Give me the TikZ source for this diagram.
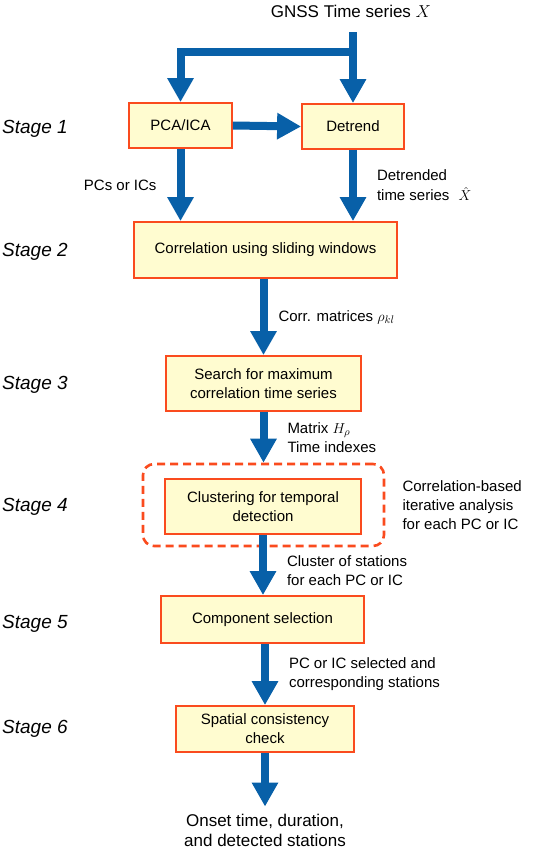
\documentclass[tikz,border=0pt]{standalone}
\usepackage{amsmath}
\usepackage{fontspec}
\setmainfont{Liberation Sans}
\usepackage{tikz}
\usetikzlibrary{positioning, arrows.meta}
\definecolor{flowblue}{RGB}{8,96,168}
\definecolor{boxline}{RGB}{250,75,30}
\definecolor{boxfill}{RGB}{255,252,208}
\tikzset{
x=1pt, y=-1pt, % pixel grid of the figure, y runs downwards
flow/.style={line width=8pt, flowblue, -{Triangle[width=25pt, length=24pt]}}, % thick blue arrows
pipe/.style={line width=8pt, flowblue}, % the same without a head
stagebox/.style={draw=boxline, line width=1.8pt, fill=boxfill, align=center, inner sep=2pt}, % the yellow boxes
stagename/.style={anchor=base west, inner sep=0pt, font=\fontsize{19}{23}\selectfont\itshape}, % Stage 1 ... Stage 6
note/.style={align=left, text=black, font=\fontsize{15}{19}\selectfont}, % text beside the arrows
endtext/.style={align=center, text=black, font=\fontsize{17}{20}\selectfont}, % input and output
}

\begin{document}
\begin{tikzpicture}
        \useasboundingbox (0,0) rectangle (533,849);
        \fontsize{15}{19}\selectfont

        % stage names
        \node[stagename] (st1) at (2,133) {Stage 1};
        \node[stagename] (st2) at (2,256) {Stage 2};
        \node[stagename] (st3) at (2,389) {Stage 3};
        \node[stagename] (st4) at (2,511) {Stage 4};
        \node[stagename] (st5) at (2,628) {Stage 5};
        \node[stagename] (st6) at (2,733) {Stage 6};

        % boxes
        \node[endtext] (gnss) at (351,11) {GNSS Time series $X$};
        \coordinate (src) at (353,32);
        \coordinate (split) at (353,52);
        \node[stagebox, minimum width=103pt, minimum height=45pt] (pca) at (180.5,125.5) {PCA/ICA};
        \node[stagebox, minimum width=102pt, minimum height=45pt] (detrend) at (353,126.5) {Detrend};
        \node[stagebox, minimum width=263pt, minimum height=56pt] (corr) at (265.5,250) {Correlation using sliding windows};
        \node[stagebox, minimum width=195pt, minimum height=55pt] (search) at (263.5,383.5) {Search for maximum\\correlation time series};
        \node[draw=boxline, line width=2.6pt, dash pattern=on 8pt off 5pt, rounded corners=11pt,
              minimum width=241pt, minimum height=82pt] (group) at (263.5,505) {};
        \node[stagebox, minimum width=196pt, minimum height=55pt] (cluster) at (263,506.5) {Clustering for temporal\\detection};
        \node[note, right=12pt of group] (iter) {Correlation-based\\iterative analysis\\for each PC or IC};
        \node[stagebox, minimum width=203pt, minimum height=47pt] (select) at (262.5,619.5) {Component selection};
        \node[stagebox, minimum width=178pt, minimum height=46pt] (spatial) at (265,729) {Spatial consistency\\check};
        \node[endtext] (out) at (265,830) {Onset time, duration,\\and detected stations};

        % arrows
        \draw[flow] (src) -- (detrend.north);
        \draw[pipe] (split) -| ([yshift=22pt]pca.north);
        \draw[flow] ([yshift=26pt]pca.north) -- (pca.north);
        \draw[flow] (pca.east) -- (detrend.west);
        \draw[flow] (pca.south) -- (pca.south |- corr.north)
            node[midway, left=15pt, note] {PCs or ICs};
        \draw[flow] (detrend.south) -- (detrend.south |- corr.north)
            node[midway, right=15pt, note] {Detrended\\[1pt]time series\hspace{9pt}$\hat{X}$};
        \draw[flow] (corr.south -| search.north) -- (search.north)
            node[midway, right=6pt, note] {Corr. matrices $\rho_{kl}$};
        \draw[flow] (search.south) -- (search.south |- group.north)
            node[midway, right=15pt, note] {Matrix $H_\rho$\\Time indexes};
        \draw[flow] (cluster.south) -- (cluster.south |- select.north)
            node[pos=0.6, right=15pt, note] {Cluster of stations\\for each PC or IC};
        \draw[flow] (select.south -| spatial.north) -- (spatial.north)
            node[midway, right=15pt, note] {PC or IC selected and\\corresponding stations};
        \draw[flow] (spatial.south) -- ([yshift=2pt]out.north);
    \end{tikzpicture}
\end{document}
